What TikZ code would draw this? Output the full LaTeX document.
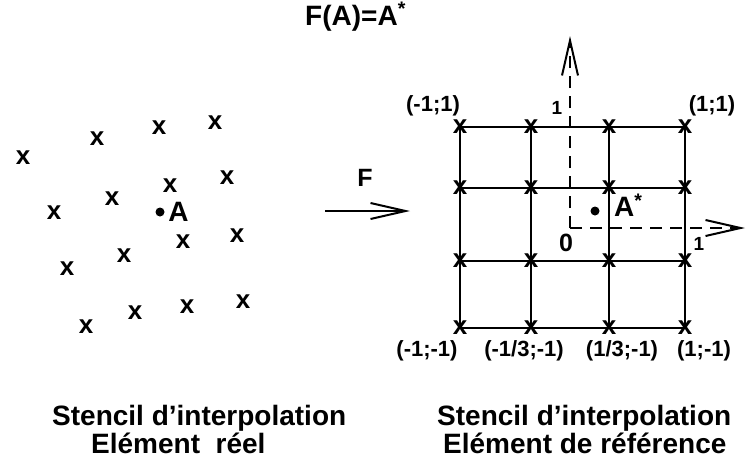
\documentclass[tikz,border=0pt]{standalone}
\usepackage{fontspec}
\setmainfont{Liberation Sans}
\usetikzlibrary{positioning, arrows.meta}

\begin{document}
\begin{tikzpicture}[
  x=1pt, y=-1pt,
  cross/.style={font=\fontsize{26}{26}\selectfont\bfseries, inner sep=0pt},
  lbl/.style={font=\fontsize{22}{22}\selectfont\bfseries, inner sep=0pt},
  small/.style={font=\fontsize{19}{19}\selectfont\bfseries, inner sep=0pt},
  big/.style={font=\fontsize{28}{28}\selectfont\bfseries, inner sep=0pt},
  gridline/.style={line width=2pt},
  arr/.style={line width=2pt, -{Straight Barb[length=35pt, width=16pt]}},
  axis/.style={arr, dash pattern=on 12pt off 8pt},
  dot/.style={circle, fill, inner sep=0pt, minimum size=9pt}
]
  \useasboundingbox (0,0) rectangle (746,466);

  % Element reel
  \foreach \px/\py [count=\i] in {23/158, 97/139, 159/128, 215/123, 227/178,
      170/186, 112/199, 54/213, 183/242, 237/236, 124/256, 67/269,
      243/302, 187/307, 135/313, 86/327}
    \node[cross] (pt\i) at (\px,\py) {x};
  \node[dot] (a) at (160,212) {};
  \node[big, right=3.5pt of a] (alab) {A};

  % Transformation
  \node[big, anchor=base west] (title) at (305,25) {F(A)=A\textsuperscript{*}};
  \coordinate (fstart) at (325,211);
  \coordinate (fend) at (410,211);
  \draw[arr] (fstart) -- (fend);
  \node[big, font=\fontsize{25}{25}\selectfont\bfseries] (flab) at (365,178) {F};

  % Element de reference
  \foreach \gx [count=\c] in {460,531,609,685}
    \foreach \gy [count=\r] in {127,188,261,328}
      \coordinate (g\c\r) at (\gx,\gy);
  \foreach \r in {1,...,4} {
    \draw[gridline] (g1\r) -- (g4\r);
    \draw[gridline] (g\r1) -- (g\r4);
  }
  \foreach \c in {1,...,4}
    \foreach \r in {1,...,4}
      \node[cross] (m\c\r) at (g\c\r) {x};

  % Axes
  \coordinate (o) at (570,228);
  \coordinate (ytip) at (570,36);
  \coordinate (xtip) at (745,228);
  \draw[axis] (o) -- (ytip);
  \draw[axis] (o) -- (xtip);
  \node[lbl, font=\fontsize{25}{25}\selectfont\bfseries] (zero) at (566,243) {0};
  \node[small] (xone) at (699,244) {1};
  \node[small] (yone) at (557,108) {1};
  \node[dot] (astar) at (595,211) {};
  \node[big, anchor=west] (astarlab) at (614,205) {A\textsuperscript{*}};

  % Coordonnees
  \node[lbl] (c11) at (433,106) {(-1;1)};
  \node[lbl] (c41) at (712,106) {(1;1)};
  \node[lbl] (c14) at (427,351) {(-1;-1)};
  \node[lbl] (c24) at (524,351) {(-1/3;-1)};
  \node[lbl] (c34) at (622,351) {(1/3;-1)};
  \node[lbl] (c44) at (704,351) {(1;-1)};

  % Legendes
  \node[big, anchor=base west] (capl1) at (52,425) {Stencil d'interpolation};
  \node[big, anchor=base west] (capl2) at (91,453) {Elément\ \ réel};
  \node[big, anchor=base west] (capr1) at (437,425) {Stencil d'interpolation};
  \node[big, anchor=base west] (capr2) at (443,453) {Elément de référence};
\end{tikzpicture}
\end{document}
